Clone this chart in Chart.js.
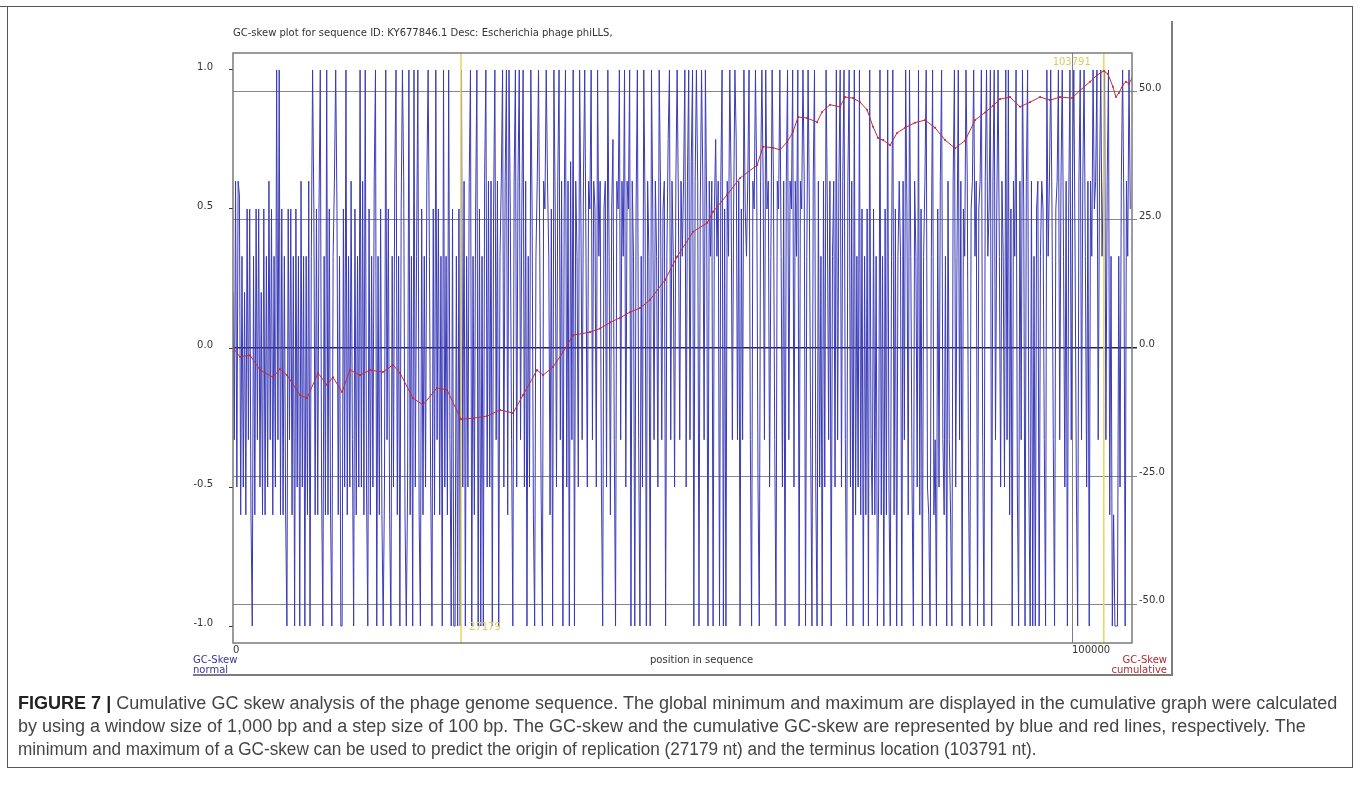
<!DOCTYPE html>
<html><head><meta charset="utf-8">
<script src="https://cdn.jsdelivr.net/npm/chart.js@4.4.0/dist/chart.umd.min.js"></script>
<style>
html,body{margin:0;padding:0;background:#fff;}
#wrap{position:relative;width:1360px;height:792px;overflow:hidden;background:#fff;}
#c{position:absolute;left:0;top:0;}
.t{position:absolute;font-family:"DejaVu Sans",sans-serif;font-size:10px;line-height:10px;white-space:nowrap;color:#333;}
.ln{position:absolute;background:#7d7d7d;}
.cap{position:absolute;left:18px;font-family:"Liberation Sans Narrow","Liberation Sans",Arial,sans-serif;font-size:18px;line-height:22px;color:#454545;white-space:nowrap;transform-origin:0 0;}
.cap b{color:#222;}
</style></head>
<body><div id="wrap">
<canvas id="c" width="1360" height="792"></canvas>
<div class="ln" style="left:0;top:6px;width:1353px;height:1px;background:#555"></div>
<div class="ln" style="left:1352px;top:6px;width:1px;height:762px;background:#555"></div>
<div class="ln" style="left:7px;top:6px;width:1px;height:762px;background:#555"></div>
<div class="ln" style="left:7px;top:767px;width:1346px;height:1px;background:#555"></div>
<div class="ln" style="left:1171px;top:21px;width:2px;height:655px"></div>
<div class="ln" style="left:193px;top:674px;width:980px;height:2px"></div>
<div class="t" id="title" style="left:233px;top:28px;">GC-skew plot for sequence ID: KY677846.1 Desc: Escherichia phage phiLLS,</div>
<div class="t" style="left:650px;top:655px;">position in sequence</div>
<div class="t" style="left:193px;top:655px;color:#3434a0;">GC-Skew<br>normal</div>
<div class="t" style="left:1110px;top:655px;width:57px;text-align:right;color:#b02a30;">GC-Skew<br>cumulative</div>
<div class="cap" id="cap1" data-w="1319" style="top:692px;"><b>FIGURE 7 |</b> Cumulative GC skew analysis of the phage genome sequence. The global minimum and maximum are displayed in the cumulative graph were calculated</div>
<div class="cap" id="cap2" data-w="1288" style="top:715px;">by using a window size of 1,000 bp and a step size of 100 bp. The GC-skew and the cumulative GC-skew are represented by blue and red lines, respectively. The</div>
<div class="cap" id="cap3" data-w="1019" style="top:738px;">minimum and maximum of a GC-skew can be used to predict the origin of replication (27179 nt) and the terminus location (103791 nt).</div>
</div>
<script>
// ---------- data ----------
const genomeLength = 107150;          // bp shown on the x axis
const skewStep = 153;                 // bp between plotted GC-skew windows
const gcSkew = [
 .2,-.33,.6,-.5,.6,.55,-.6,.33,-.5,.2, -.6,.5,-.33,.5,-.6,-1,.33,-.6,.5,-.33,
 .5,-.5,.2,-.6,.5,-.6,.33,-.5,.6,-.33, .5,-.6,.33,-.5,1,-.33,1,-.6,.5,-.6,
 .33,-.6,-1,.5,-.33,.5,-.6,.33,-1,.5,
 -.5,.33,-1,.6,-.5,.33,-1,.33,-.6,.6, -1,.33,1,.5,-.6,.5,-.6,.5,1,-.5,
 -1,.33,-.6,1,-.6,.5,-.6,-1,.33,.6, 1,.5,-.6,.33,-1,-1,.5,-.5,1,-.6,
 .33,-.5,.6,-.33,-1,.5,-.6,.33,-.5,1,
 -.5,.6,-.6,1,-.5,-1,.5,-.6,.33,-.5, .6,1,-1,.33,-.6,.5,-.6,-1,-.5,1,
 -.33,.5,-.6,-1,.33,-.5,.6,1,-.6,.33, -1,.5,1,.6,-.6,-1,-.5,1,-.6,.33,
 -1,1,-.5,.33,1,-.6,-1,.5,-.6,.33,
 -.5,.6,1,.33,-.5,-1,.5,-.6,1,-.33, .5,-.6,.33,-1,1,-.5,.33,-.6,1,-.33,
 -1,.5,-1,-1,.33,-1,.5,-1,1,-.5, .6,-1,.33,-.5,.6,1,-1,.33,-.6,.5,
 1,-1,.5,-1,.33,-1,.6,1,-.5,.6,
 -.5,.6,-1,.5,1,-.33,.6,-1,.33,.6, 1,-.5,.6,1,-.6,1,.5,-.33,-1,.6,
 1,-.5,.6,1,-.33,.5,1,-.5,.6,-1, .33,-.5,1,.5,-.6,-1,.33,.6,1,.33,
 -.5,-1,.6,.5,1,.6,.33,-.6,.5,-1,
 1,.5,-.5,.6,1,-.33,.6,-1,.5,1, -.5,.6,-1,.67,-.33,1,-1,.6,.33,-.5,
 1,.5,-.33,.6,1,.33,-.5,.6,.5,1, -.33,.6,.5,-.5,1,.33,.6,-.5,-1,.5,
 .6,-.5,1,.33,-.6,.5,.75,-.33,-1,.6,
 .5,1,-.33,.6,.33,1,-.5,.6,.5,1, -1,.6,.33,-1,.5,1,-.33,-1,.33,-.5,
 1,.5,-1,.6,.33,-1,1,.5,-.33,.6, .33,-.5,1,.6,-.33,.5,.6,-1,.33,.75,
 1,-.33,.6,.33,-.5,.6,1,.5,-.33,.6,
 .33,.6,1,-.5,.6,1,-.33,.67,1,-1, .6,1,.6,-1,.5,1,.6,-.33,1,.5,
 -1,.6,.33,.6,-1,.5,.75,.33,.6,-1, .6,1,-1,.5,-1,.6,.33,1,.6,-.33,
 .5,1,.75,-.33,.6,-1,.5,-.33,1,.5,
 .33,.6,1,-.33,-1,.6,.5,1,.6,-.5, -1,.6,1,.6,-.33,1,.5,.6,-.5,.33,
 1,.6,-.33,-1,.6,.5,1,.33,-.5,.6, -1,.6,1,-.33,.6,.5,1,-.5,.6,.33,
 1,-1,.6,.5,1,.6,-1,.33,1,.5,
 -.33,-1,.6,1,-.5,-1,.6,-.5,.33,-1, .6,-.5,1,.5,-.33,.6,-1,.33,.6,-.5,
 1,-.33,.6,1,-.5,.6,1,-.33,-1,.6, 1,-.5,.6,-1,1,-.6,.33,-.5,1,-.6,
 .5,-1,.33,-.6,.5,-1,1,-.33,-.6,.5,
 -.6,.33,-1,-.5,1,-.6,.33,-1,.5,-.6, 1,-.5,-1,.33,1,-.6,.5,-1,.33,.6,
 .33,-1,.6,-.33,1,.5,-.6,1,.33,-.5, -1,.6,.33,-.5,1,-.6,.5,-1,.33,.6,
 1,-.5,-.6,-1,.33,1,-.6,-.33,-1,.5,
 -.5,.6,1,-.33,-.6,.33,-1,.6,-.33,-.6, -1,.6,1,-.5,.33,1,-.33,.6,-1,.5,
 .33,1,.6,-.5,-1,.5,.6,1,.33,.6, -1,.5,.6,1,-.33,-1,.6,1,.33,.5,
 1,-1,.6,1,-.33,.5,1,.33,-.5,.6,
 .33,-.5,1,-.33,1,-.6,.5,-1,.6,.33, 1,-.5,-1,.6,-.33,1,.5,-1,.6,1,
 -.5,-1,.6,-1,.33,-1,.5,.6,-1,.33, .6,.5,-.33,-1,1,.33,.6,1,.5,-.33,
 -1,.5,.6,1,-.33,.6,1,.33,-.5,.6,
 -1,.5,1,-.33,.6,1,.33,-.5,-1,.6, 1,-.33,.6,1,.33,-.5,.6,-1,.6,.33,
 1,.5,.6,1,-.33,.6,1,.33,.6,1, -.33,.6,1,-.6,.33,-1,-.6,-1,-1,-1,
 .33,-.5,.6,1,.5,-1,.6,.33,1,.5
];
const cumPos = [0,834,2026,3218,4768,5602,6437,7986,8821,10132,11205,11920,12993,13946,15138,16330,17880,19072,19906,21456,22648,24317,25509,27179,28608,30277,31826,33376,34568,36237,36952,38144,39336,40528,42554,43746,44938,46130,47322,48514,49706,51494,52925,54832,56501,57216,58885,60434,62461,63176,64368,65202,66037,66752,67348,68421,69613,70209,71162,72354,72950,73904,74738,75573,76288,76884,77480,78314,79149,80102,81294,82486,83678,84870,86062,87254,88446,89638,90592,91426,92618,93810,95002,96194,97386,98578,100009,100962,102154,102989,103791,104281,104877,105234,105592,106069,106426,106784,107161];
const cumSkew = [0,-1.7,-1.4,-4.3,-5.7,-4.1,-5.3,-9.2,-9.8,-4.9,-7.2,-5.7,-8.6,-4.3,-5.3,-4.3,-4.7,-3.3,-4.9,-9.8,-11.1,-7.8,-8.2,-13.9,-13.7,-13.3,-12.1,-12.7,-9.2,-4.3,-5.3,-3.7,-0.8,2.5,3.1,3.8,5.0,5.9,7.0,7.8,9.4,13.3,17.8,22.7,24.4,26.6,29.9,33.2,35.7,39.3,39.1,38.7,40.2,42.2,45.1,44.9,44.1,46.1,47.5,47.1,49.0,48.8,48.0,46.5,43.2,41.0,40.6,39.6,42.0,43.0,44.0,44.5,43.0,40.6,39.0,40.5,44.5,46.0,47.3,48.6,49.0,47.1,48.0,49.0,48.4,49.0,48.8,50.3,52.0,53.3,54.1,53.5,51.0,49.0,49.8,51.4,52.0,51.6,52.7];
const markerPos = [27179, 103791];      // origin (min) and terminus (max)
const leftTicks = [-1, -0.5, 0, 0.5, 1];
const rightTicks = [-50, -25, 0, 25, 50];
const xTicks = [0, 100000];

// ---------- chart ----------
const skewData = gcSkew.map((v, i) => ({x: i * skewStep, y: v}));
const cumData = cumPos.map((p, i) => ({x: p, y: cumSkew[i]}));
const tickFont = {family: 'DejaVu Sans', size: 10};

const overlay = {
  id: 'overlay',
  beforeDatasetDraw(chart, args) {
    if (args.index !== 0) return;
    const {ctx, chartArea: a, scales: {x}} = chart;
    ctx.save();
    ctx.strokeStyle = '#e8d65e'; ctx.lineWidth = 1.5;
    markerPos.forEach(p => {
      const px = x.getPixelForValue(p);
      ctx.beginPath(); ctx.moveTo(px, a.top); ctx.lineTo(px, a.bottom); ctx.stroke();
    });
    ctx.restore();
  },
  afterDatasetsDraw(chart) {
    const {ctx, chartArea: a, scales: {x, yL}} = chart;
    ctx.save();
    ctx.font = '10px "DejaVu Sans"'; ctx.fillStyle = '#dccb5c'; ctx.textBaseline = 'middle';
    const p0 = x.getPixelForValue(markerPos[0]);
    ctx.textAlign = 'left'; ctx.fillText(String(markerPos[0]), p0 + 8, yL.getPixelForValue(-1) + 1);
    const p1 = x.getPixelForValue(markerPos[1]);
    ctx.textAlign = 'right'; ctx.fillText(String(markerPos[1]), p1 - 13, a.top + 9);
    ctx.strokeStyle = '#7a7a7a'; ctx.lineWidth = 1.5;
    ctx.strokeRect(a.left, a.top, a.right - a.left, a.bottom - a.top);
    ctx.restore();
  }
};

new Chart(document.getElementById('c'), {
  type: 'line',
  data: {datasets: [
    {label: 'GC-Skew cumulative', data: cumData, yAxisID: 'yR', borderColor: '#b8303c', borderWidth: 1,
     pointRadius: 1, pointBorderWidth: 0, pointBackgroundColor: '#d4202c', tension: 0},
    {label: 'GC-Skew normal', data: skewData, yAxisID: 'yL', borderColor: '#3a3ab6', borderWidth: 1,
     pointRadius: 0, tension: 0}
  ]},
  options: {
    responsive: false, animation: false, devicePixelRatio: 1,
    layout: {padding: {top: 53, left: 0, right: 0, bottom: 0}},
    plugins: {legend: {display: false}, tooltip: {enabled: false}},
    scales: {
      x: {type: 'linear', position: 'bottom', min: 0, max: genomeLength,
          afterBuildTicks: s => { s.ticks = xTicks.map(v => ({value: v})); },
          afterFit: s => { s.height = 149; },
          ticks: {align: 'start', font: tickFont, color: '#333', padding: 1, maxRotation: 0, autoSkip: false,
                  callback: v => String(v)},
          grid: {color: c => c.tick && c.tick.value === 0 ? 'rgba(0,0,0,0)' : '#808080', lineWidth: 1, drawTicks: false},
          border: {display: false}},
      yL: {type: 'linear', position: 'left', min: -1.061, max: 1.061,
           afterBuildTicks: s => { s.ticks = leftTicks.map(v => ({value: v})); },
           afterFit: s => { s.width = 233; },
           ticks: {font: tickFont, color: '#333', padding: 16, labelOffset: -3, callback: v => v.toFixed(1)},
           grid: {drawOnChartArea: false, drawTicks: true, tickLength: 4, color: '#333'},
           border: {display: false}},
      yR: {type: 'linear', position: 'right', min: -57.6, max: 57.6,
           afterBuildTicks: s => { s.ticks = rightTicks.map(v => ({value: v})); },
           afterFit: s => { s.width = 228; },
           ticks: {font: tickFont, color: '#333', padding: 2, labelOffset: -4, callback: v => v.toFixed(1)},
           grid: {drawOnChartArea: true, drawTicks: true, tickLength: 5,
                  color: c => c.tick && c.tick.value === 0 ? '#22225a' : '#888888', lineWidth: c => c.tick && c.tick.value === 0 ? 1.5 : 1},
           border: {display: false}}
    }
  },
  plugins: [overlay]
});

// fit each caption line to its printed width
['cap1','cap2','cap3'].forEach(id => {
  const el = document.getElementById(id);
  const k = Number(el.dataset.w) / el.scrollWidth;
  el.style.transform = 'scaleX(' + k + ')';
});
</script>
</body></html>
